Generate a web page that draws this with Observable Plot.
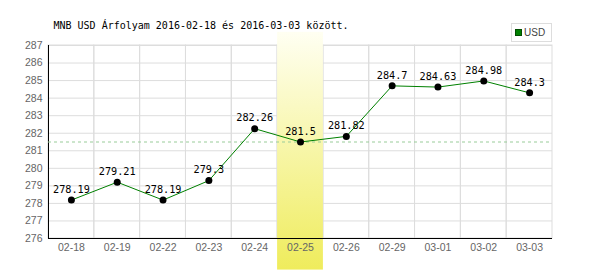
<!DOCTYPE html>
<html>
<head>
<meta charset="utf-8">
<script src="https://cdn.jsdelivr.net/npm/d3@7"></script>
<script src="https://cdn.jsdelivr.net/npm/@observablehq/plot@0.6"></script>
<style>
  body { margin: 0; background: #fff; }
  #wrap { position: relative; width: 600px; height: 270px; }
  #legend {
    position: absolute; left: 511px; top: 23px; width: 39px; height: 17px;
    border: 1px solid #ddd; background: #fff;
    font: 10px "Liberation Sans", Arial, sans-serif; color: #444;
  }
  #legend .sw {
    position: absolute; left: 3px; top: 5px; width: 5px; height: 5px;
    border: 1px solid #004d00; background: #008000;
  }
  #legend .lb { position: absolute; left: 12px; top: 3px; line-height: 11px; }
</style>
</head>
<body>
<div id="wrap"></div>
<script>
const dates = ["02-18","02-19","02-22","02-23","02-24","02-25","02-26","02-29","03-01","03-02","03-03"];
const rates = [278.19, 279.21, 278.19, 279.3, 282.26, 281.5, 281.82, 284.7, 284.63, 284.98, 284.3];
const yTicks = [276, 277, 278, 279, 280, 281, 282, 283, 284, 285, 286, 287];
const highlightDate = "02-25";
const referenceValue = 281.5;
const title = "MNB USD Árfolyam 2016-02-18 és 2016-03-03 között.";
const seriesName = "USD";

const data = dates.map((d, i) => ({date: d, rate: rates[i]}));
const yMin = yTicks[0], yMax = yTicks[yTicks.length - 1];

const sans = "'Liberation Sans', Arial, sans-serif";
const mono = "'DejaVu Sans Mono', monospace";

const svg = Plot.plot({
  width: 600,
  height: 270,
  marginLeft: 48,
  marginRight: 48,
  marginTop: 45,
  marginBottom: 32,
  style: {fontFamily: sans, background: "#fff"},
  x: {type: "band", domain: dates, padding: 0, round: false},
  y: {domain: [yMin, yMax]},
  marks: [
    // grid
    Plot.ruleY(yTicks, {stroke: "#ddd", strokeWidth: 1}),
    Plot.barY(dates, {x: d => d, y1: yMin, y2: yMax, fill: "none", stroke: "#ddd", strokeWidth: 1}),
    // highlight band
    Plot.barY([highlightDate], {x: d => d, y1: yMin - 1.8, y2: yMax + 0.75, fill: "url(#hlgrad)"}),
    // axes lines
    Plot.frame({anchor: "left", stroke: "#000"}),
    Plot.ruleY([yMin], {stroke: "#000"}),
    Plot.axisX({tickSize: 0, tickPadding: 5, fontSize: 10.5, fill: "#666", label: null, fontFamily: sans}),
    Plot.axisY({ticks: yTicks, tickSize: 0, tickPadding: 6, fontSize: 10.5, fill: "#666", label: null, fontFamily: sans}),
    // reference line
    Plot.ruleY([referenceValue], {stroke: "#9c9", strokeDasharray: "3,3", strokeWidth: 1}),
    // series
    Plot.line(data, {x: "date", y: "rate", stroke: "#008000", strokeWidth: 1}),
    Plot.dot(data, {x: "date", y: "rate", r: 3.5, fill: "#000", stroke: "none"}),
    Plot.text(data, {x: "date", y: "rate", text: d => String(d.rate), dy: -10.5, lineAnchor: "middle",
      fontFamily: mono, fontSize: 10.2, fill: "#000"}),
    // title
    Plot.text([title], {frameAnchor: "top-left", textAnchor: "start", lineAnchor: "middle", dx: 5, dy: -19.5,
      fontFamily: mono, fontSize: 10, fill: "#000"})
  ]
});

// gradient defs for the highlight band
const ns = "http://www.w3.org/2000/svg";
const defs = document.createElementNS(ns, "defs");
const grad = document.createElementNS(ns, "linearGradient");
grad.setAttribute("id", "hlgrad");
grad.setAttribute("x1", "0"); grad.setAttribute("y1", "0");
grad.setAttribute("x2", "0"); grad.setAttribute("y2", "1");
[["0%", "#fffff2"], ["100%", "#efec5c"]].forEach(([o, c]) => {
  const s = document.createElementNS(ns, "stop");
  s.setAttribute("offset", o); s.setAttribute("stop-color", c);
  grad.appendChild(s);
});
defs.appendChild(grad);
svg.insertBefore(defs, svg.firstChild);

const wrap = document.getElementById("wrap");
wrap.appendChild(svg);

const legend = document.createElement("div");
legend.id = "legend";
legend.innerHTML = '<span class="sw"></span><span class="lb"></span>';
legend.querySelector(".lb").textContent = seriesName;
wrap.appendChild(legend);
</script>
</body>
</html>
